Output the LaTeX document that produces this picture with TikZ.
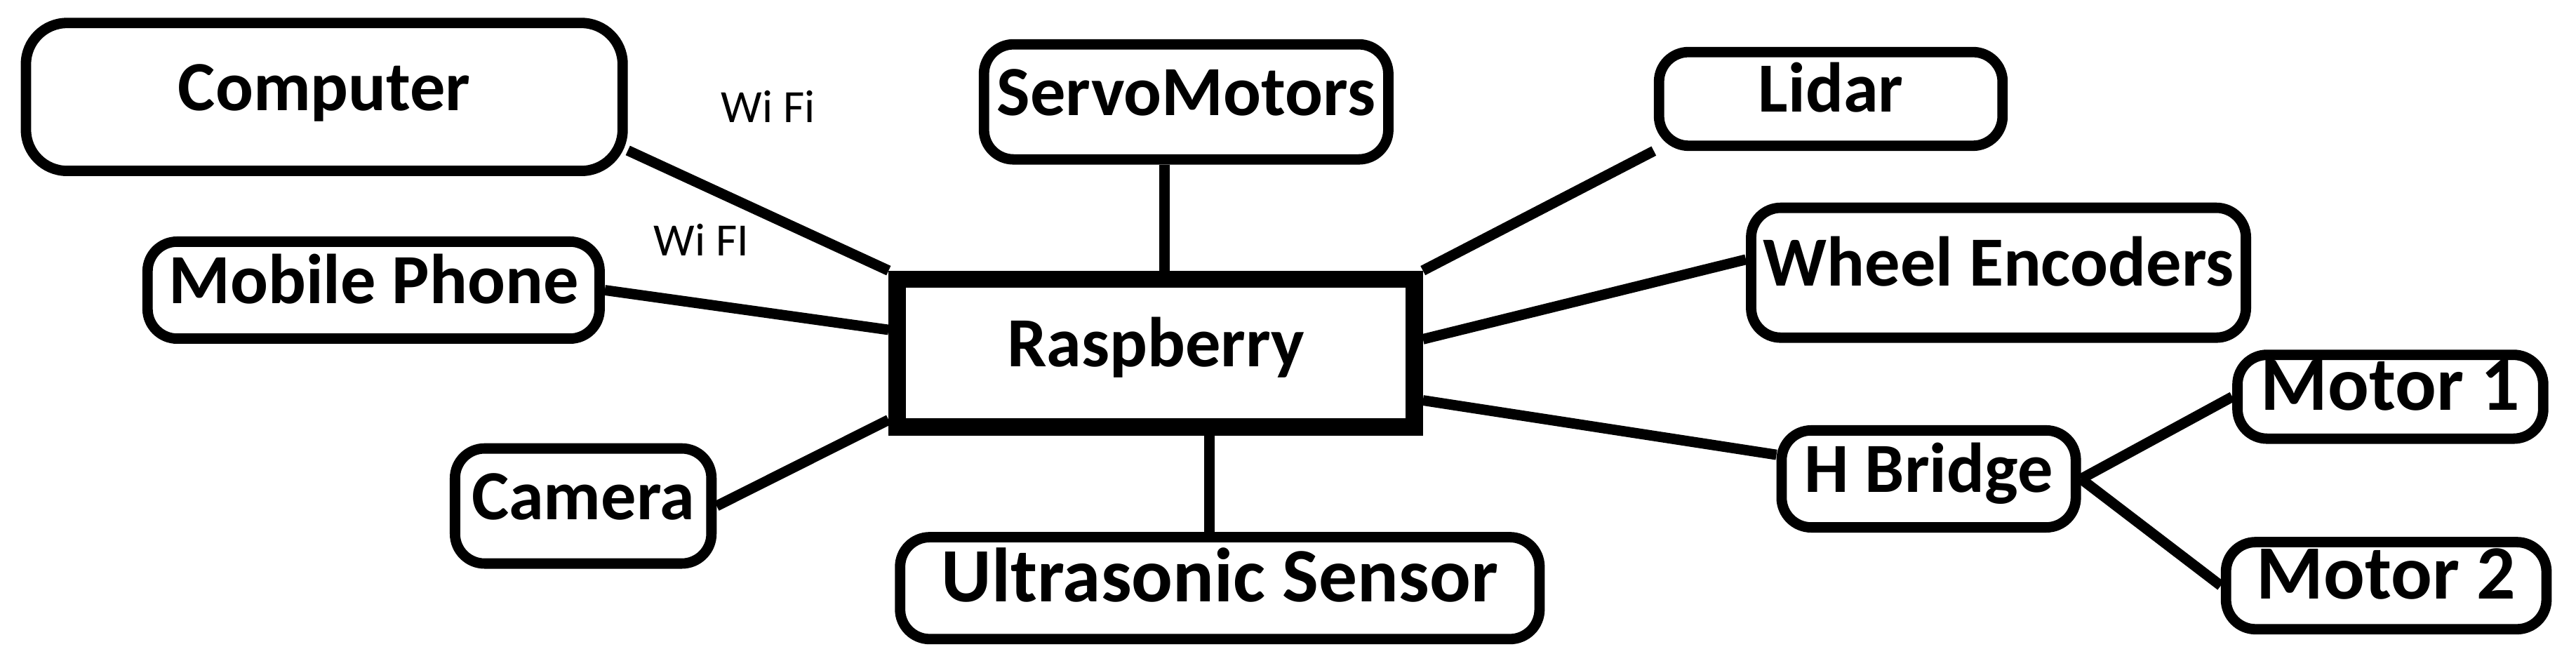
\documentclass[tikz,border=0pt]{standalone}
\usepackage{fontspec}
\setmainfont{Carlito}
\usepackage{tikz}

\begin{document}
\begin{tikzpicture}[x=0.01cm, y=-0.01cm,
  blocco/.style={draw, line width=1.8pt, rounded corners=1.8mm, inner sep=0pt,
    text height=0.66em, text depth=0.2em, font=\fontsize{12.2}{15}\selectfont\bfseries},
  grande/.style={font=\fontsize{13.3}{16}\selectfont\bfseries},
  centrale/.style={draw, line width=3pt, inner sep=0pt,
    text height=0.66em, text depth=0.2em, font=\fontsize{12.2}{15}\selectfont\bfseries},
  filo/.style={line width=1.8pt},
  nota/.style={inner sep=0pt, font=\fontsize{8}{9}\selectfont}]

% Area
\useasboundingbox (0,0) rectangle (1568,402);

% Nodo centrale
\node[centrale, minimum width=3.145cm, minimum height=0.90cm] (rasp) at (703.5,215) {Raspberry};

% Blocchi a sinistra
\node[blocco, rounded corners=2.5mm, minimum width=3.63cm, minimum height=0.90cm] (comp) at (197.4,59) {Computer};
\node[blocco, minimum width=2.75cm, minimum height=0.59cm] (mobile) at (227.4,176.6) {Mobile Phone};
\node[blocco, minimum width=1.56cm, minimum height=0.70cm] (camera) at (355,308) {Camera};

% Blocchi sopra e sotto
\node[blocco, minimum width=2.46cm, minimum height=0.70cm] (servo) at (722,62) {ServoMotors};
\node[blocco, grande, minimum width=3.89cm, minimum height=0.62cm] (ultra) at (742.5,358) {Ultrasonic Sensor};

% Blocchi a destra
\node[blocco, minimum width=2.09cm, minimum height=0.57cm] (lidar) at (1114.4,60.2) {Lidar};
\node[blocco, minimum width=3.01cm, minimum height=0.79cm] (wheel) at (1216.5,166) {Wheel Encoders};
\node[blocco, minimum width=1.79cm, minimum height=0.59cm] (hbridge) at (1174,291.5) {H Bridge};
\node[blocco, grande, minimum width=1.86cm, minimum height=0.51cm] (motor1) at (1455,241.5) {Motor 1};
\node[blocco, grande, minimum width=1.95cm, minimum height=0.53cm] (motor2) at (1452.5,356.5) {Motor 2};

% Etichette Wi Fi
\node[nota] (wifi1) at (467.5,65) {Wi Fi};
\node[nota] (wifi2) at (427,146) {Wi FI};

% Collegamenti
\draw[filo] (comp.-10) -- (rasp.north west);
\draw[filo] (mobile.east) -- (rasp.175);
\draw[filo] (camera.east) -- (rasp.194);
\draw[filo] ([xshift=1.5pt]rasp.north) -- ([xshift=1.5pt]rasp.north |- servo.south);
\draw[filo] ([xshift=-1.8pt]ultra.north) -- ([xshift=-1.8pt]ultra.north |- rasp.south);
\draw[filo] (lidar.south west) -- (rasp.north east);
\draw[filo] (wheel.177) -- (rasp.3);
\draw[filo] (hbridge.171) -- (rasp.-10);
\draw[filo] (hbridge.east) -- (motor1.west);
\draw[filo] (hbridge.east) -- (motor2.west);

\end{tikzpicture}
\end{document}
